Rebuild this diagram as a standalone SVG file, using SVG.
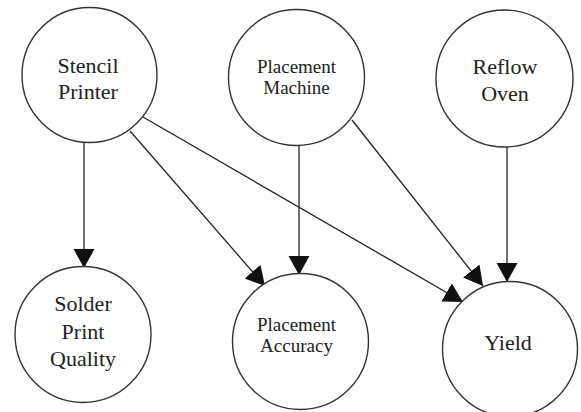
<svg xmlns="http://www.w3.org/2000/svg" width="581" height="412" viewBox="0 0 581 412">
<defs>
<marker id="arr" markerUnits="userSpaceOnUse" markerWidth="20" markerHeight="22" refX="19" refY="10.5" orient="auto">
<path d="M0,0 L19,10.5 L0,21 z" fill="#111"/>
</marker>
<style>
.node circle{fill:#fff;stroke:#333;stroke-width:1.4}
.node text{font-family:"Liberation Serif","Times New Roman",serif;fill:#222;text-anchor:middle}
.big{font-size:22px}
.small{font-size:19px}
#edges line{stroke:#222;stroke-width:1.3;marker-end:url(#arr)}
</style>
</defs>
<rect width="581" height="412" fill="#fff"/>
<g id="edges">
<line x1="84" y1="143" x2="84" y2="268"/>
<line x1="130" y1="131" x2="265" y2="286"/>
<line x1="143" y1="117" x2="463" y2="302"/>
<line x1="299" y1="146" x2="299" y2="275"/>
<line x1="352" y1="120" x2="483" y2="286"/>
<line x1="507" y1="147" x2="507" y2="282"/>
</g>
<g id="stencil" class="node">
<circle cx="89.5" cy="75" r="67.5"/>
<text class="big" x="88" y="73">Stencil</text>
<text class="big" x="88" y="99">Printer</text>
</g>
<g id="machine" class="node">
<circle cx="296.5" cy="77.5" r="68"/>
<text class="small" x="296.5" y="73">Placement</text>
<text class="small" x="296.5" y="94">Machine</text>
</g>
<g id="reflow" class="node">
<circle cx="504.5" cy="78.5" r="68.5"/>
<text class="big" x="505" y="74">Reflow</text>
<text class="big" x="505" y="101">Oven</text>
</g>
<g id="solder" class="node">
<circle cx="83" cy="334.5" r="68"/>
<text class="big" x="83" y="311">Solder</text>
<text class="big" x="83" y="339">Print</text>
<text class="big" x="83" y="366">Quality</text>
</g>
<g id="accuracy" class="node">
<circle cx="300.5" cy="341.5" r="68"/>
<text class="small" x="296.5" y="331">Placement</text>
<text class="small" x="296.5" y="352">Accuracy</text>
</g>
<g id="yield" class="node">
<circle cx="510" cy="349" r="67.5"/>
<text class="big" x="508" y="350">Yield</text>
</g>
</svg>
